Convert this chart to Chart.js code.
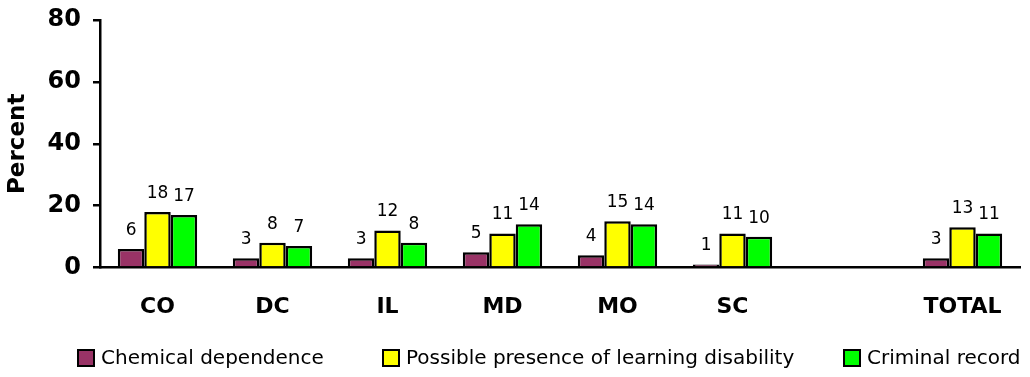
<!DOCTYPE html>
<html>
<head>
<meta charset="utf-8">
<script src="https://cdn.jsdelivr.net/npm/chart.js@4/dist/chart.umd.min.js"></script>
<style>
  html, body { margin: 0; padding: 0; background: #ffffff; }
  #wrap { width: 1030px; height: 377px; }
</style>
</head>
<body>
<div id="wrap"><canvas id="c" width="1030" height="377"></canvas></div>
<script>
// Sites, with an empty slot before the overall total
const categories = ['CO', 'DC', 'IL', 'MD', 'MO', 'SC', '', 'TOTAL'];
const chemicalDependence = [6, 3, 3, 5, 4, 1, null, 3];
const learningDisability = [18, 8, 12, 11, 15, 11, null, 13];
const criminalRecord = [17, 7, 8, 14, 14, 10, null, 11];
const yTicks = [0, 20, 40, 60, 80];

const FONT = "'DejaVu Sans', Verdana, sans-serif";

// Writes each bar's value just above it
const valueLabels = {
  id: 'valueLabels',
  afterDatasetsDraw(chart) {
    const ctx = chart.ctx;
    ctx.save();
    ctx.font = '17px ' + FONT;
    ctx.fillStyle = '#000';
    ctx.textAlign = 'center';
    ctx.textBaseline = 'bottom';
    chart.data.datasets.forEach((ds, i) => {
      const meta = chart.getDatasetMeta(i);
      meta.data.forEach((bar, j) => {
        const v = ds.data[j];
        if (v === null || v === undefined) return;
        ctx.fillText(String(v), bar.x, bar.y - 10);
      });
    });
    ctx.restore();
  }
};

// Single-row legend along the bottom edge, spread across the width
const legendRow = {
  id: 'legendRow',
  afterDraw(chart) {
    const ctx = chart.ctx;
    const starts = [78, 383, 844];
    const y = 358;
    ctx.save();
    ctx.font = '20px ' + FONT;
    ctx.textBaseline = 'middle';
    ctx.textAlign = 'left';
    chart.data.datasets.forEach((ds, i) => {
      const x = starts[i];
      ctx.fillStyle = ds.backgroundColor;
      ctx.fillRect(x, y - 8, 16, 16);
      ctx.strokeStyle = '#000';
      ctx.lineWidth = 2;
      ctx.strokeRect(x, y - 8, 16, 16);
      ctx.fillStyle = '#000';
      ctx.fillText(ds.label, x + 23, y + 1);
    });
    ctx.restore();
  }
};

new Chart(document.getElementById('c'), {
  type: 'bar',
  data: {
    labels: categories,
    datasets: [
      {
        label: 'Chemical dependence',
        data: chemicalDependence,
        backgroundColor: '#993366',
        borderColor: '#000000',
        borderWidth: 2.5
      },
      {
        label: 'Possible presence of learning disability',
        data: learningDisability,
        backgroundColor: '#FFFF00',
        borderColor: '#000000',
        borderWidth: 2.5
      },
      {
        label: 'Criminal record',
        data: criminalRecord,
        backgroundColor: '#00FF00',
        borderColor: '#000000',
        borderWidth: 2.5
      }
    ]
  },
  options: {
    responsive: false,
    animation: false,
    devicePixelRatio: 1,
    layout: { padding: { top: 20, right: 10, left: 0, bottom: 39 } },
    datasets: {
      bar: { categoryPercentage: 0.69, barPercentage: 1.0 }
    },
    plugins: {
      tooltip: { enabled: false },
      legend: { display: false }
    },
    scales: {
      x: {
        grid: { display: false },
        border: { display: true, color: '#000', width: 2.5 },
        ticks: {
          color: '#000',
          padding: 18,
          font: { family: FONT, size: 22, weight: 'bold' }
        }
      },
      y: {
        min: 0,
        max: 80,
        afterBuildTicks(axis) {
          axis.ticks = yTicks.map(v => ({ value: v }));
        },
        afterFit(axis) {
          // the top label may overhang into the layout padding
          axis.paddingTop = 0;
        },
        grid: {
          display: true,
          drawOnChartArea: false,
          drawTicks: true,
          tickLength: 7,
          color: '#000',
          lineWidth: 2.5
        },
        border: { display: true, color: '#000', width: 2.5 },
        ticks: {
          color: '#000',
          padding: 12,
          font: { family: FONT, size: 24, weight: 'bold', lineHeight: 1 }
        },
        title: {
          display: true,
          text: 'Percent',
          color: '#000',
          padding: { top: 4, bottom: 4 },
          font: { family: FONT, size: 23, weight: 'bold' }
        }
      }
    }
  },
  plugins: [valueLabels, legendRow]
});
</script>
</body>
</html>
